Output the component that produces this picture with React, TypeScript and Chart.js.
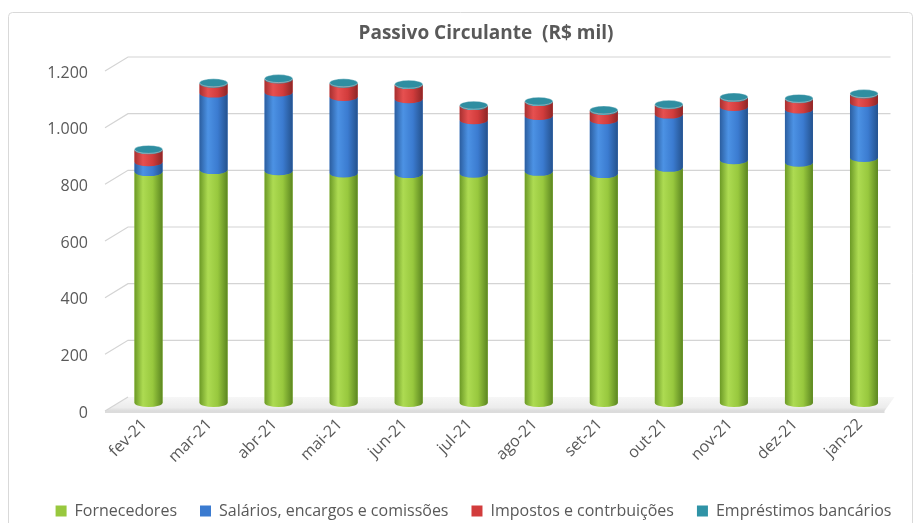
import React, { useEffect, useRef } from 'react';
import { Chart, registerables } from 'chart.js';

Chart.register(...registerables);

const categories = ['fev-21', 'mar-21', 'abr-21', 'mai-21', 'jun-21', 'jul-21', 'ago-21', 'set-21', 'out-21', 'nov-21', 'dez-21', 'jan-22'];
const fornecedores = [815, 822, 818, 810, 808, 809, 816, 808, 830, 857, 848, 865];
const salarios = [35, 270, 278, 270, 264, 189, 197, 190, 188, 188, 188, 194];
const impostos = [42, 35, 46, 47, 50, 50, 49, 33, 33, 32, 36, 30];
const emprestimos = [3, 3, 3, 3, 3, 3, 3, 3, 3, 3, 3, 3];
const seriesNames = ['Fornecedores', 'Salários, encargos e comissões', 'Impostos e contrbuições', 'Empréstimos bancários'];
const yTicks = [0, 200, 400, 600, 800, 1000, 1200];
const titleText = 'Passivo Circulante  (R$ mil)';

const FONT = "'Open Sans', 'DejaVu Sans', sans-serif";
const TEXT = '#595959';

const palettes = [
  { base: '#98c83e', stops: ['#6c9a26', '#addb52', '#98c83e', '#5b8620'], cap: '#a8d356' },
  { base: '#3b7bd0', stops: ['#2b5ea0', '#4c92e4', '#3b7bd0', '#24528e'], cap: '#5b9be6' },
  { base: '#d23c3c', stops: ['#a83030', '#e65050', '#d23c3c', '#8e2626'], cap: '#e05a5a' },
  { base: '#2f93a6', stops: ['#237f8f', '#3eaabf', '#2f93a6', '#1d6e7c'], cap: '#2f8ea1' },
];

const fmt = (v: number) =>
  v >= 1000 ? `${Math.floor(v / 1000)}.${String(v % 1000).padStart(3, '0')}` : String(v);

const decorPlugin = {
  id: 'decor3d',
  beforeDraw(chart: any) {
    const ctx = chart.ctx;
    ctx.save();
    // outer border
    ctx.strokeStyle = '#d9d9d9';
    ctx.lineWidth = 1;
    ctx.beginPath();
    const bx = 8.5, by = 12.5, bw = 904, bh = 540;
    const r = 4;
    ctx.moveTo(bx + r, by);
    ctx.lineTo(bx + bw - r, by);
    ctx.arcTo(bx + bw, by, bx + bw, by + r, r);
    ctx.lineTo(bx + bw, by + bh);
    ctx.moveTo(bx, by + bh);
    ctx.lineTo(bx, by + r);
    ctx.arcTo(bx, by, bx + r, by, r);
    ctx.stroke();
    // title
    ctx.fillStyle = TEXT;
    ctx.font = `bold 19px ${FONT}`;
    ctx.textAlign = 'center';
    ctx.textBaseline = 'middle';
    ctx.fillText(titleText, 486, 34);
    ctx.restore();
  },
  beforeDatasetsDraw(chart: any) {
    const ctx = chart.ctx;
    const { left, right } = chart.chartArea;
    const ys = chart.scales.y;
    ctx.save();
    const y0 = ys.getPixelForValue(0);
    // floor
    const fg = ctx.createLinearGradient(0, y0 - 6, 0, y0 + 9);
    fg.addColorStop(0, '#f7f7f7');
    fg.addColorStop(0.7, '#ececec');
    fg.addColorStop(1, '#d6d6d6');
    ctx.fillStyle = fg;
    ctx.beginPath();
    ctx.moveTo(left - 11, y0 + 8);
    ctx.lineTo(left + 12, y0 - 6);
    ctx.lineTo(right - 2, y0 - 6);
    ctx.lineTo(right - 12, y0 + 8);
    ctx.closePath();
    ctx.fill();
    ctx.strokeStyle = '#dcdcdc';
    ctx.lineWidth = 2;
    ctx.beginPath();
    ctx.moveTo(left - 11, y0 + 9);
    ctx.lineTo(right - 12, y0 + 9);
    ctx.stroke();
    // back wall grid lines + diagonal ticks
    ctx.strokeStyle = '#d4d4d4';
    ctx.lineWidth = 1.2;
    yTicks.forEach((v) => {
      const py = ys.getPixelForValue(v);
      ctx.beginPath();
      ctx.moveTo(left - 11, py + 8);
      ctx.lineTo(left + 12, py - 6);
      if (v > 0) ctx.lineTo(right - 6, py - 6);
      ctx.stroke();
    });
    ctx.restore();
  },
  afterDatasetsDraw(chart: any) {
    const ctx = chart.ctx;
    const ry = 4;
    const n = chart.data.labels.length;
    ctx.save();
    for (let i = 0; i < n; i++) {
      let topInfo: any = null;
      chart.data.datasets.forEach((_ds: any, d: number) => {
        const el = chart.getDatasetMeta(d).data[i];
        const { x, y, base, width } = el.getProps(['x', 'y', 'base', 'width'], true);
        const rx = width / 2;
        const left = x - rx, right = x + rx;
        const top = Math.min(y, base), bot = Math.max(y, base);
        const p = palettes[d];
        const g = ctx.createLinearGradient(left, 0, right, 0);
        g.addColorStop(0, p.stops[0]);
        g.addColorStop(0.3, p.stops[1]);
        g.addColorStop(0.65, p.stops[2]);
        g.addColorStop(1, p.stops[3]);
        ctx.beginPath();
        ctx.moveTo(left, top);
        ctx.ellipse(x, top, rx, ry, 0, Math.PI, 0, true);
        ctx.lineTo(right, bot);
        ctx.ellipse(x, bot, rx, ry, 0, 0, Math.PI, false);
        ctx.closePath();
        ctx.fillStyle = g;
        ctx.fill();
        topInfo = { x, top, rx, d };
      });
      if (topInfo) {
        const p = palettes[topInfo.d];
        ctx.beginPath();
        ctx.ellipse(topInfo.x, topInfo.top, topInfo.rx, ry, 0, 0, Math.PI * 2);
        ctx.fillStyle = p.cap;
        ctx.fill();
        ctx.strokeStyle = 'rgba(255,255,255,0.35)';
        ctx.lineWidth = 1;
        ctx.stroke();
      }
    }
    ctx.restore();
  },
};

export default function App() {
  const ref = useRef<HTMLCanvasElement | null>(null);
  useEffect(() => {
    document.body.style.overflow = 'hidden';
    if (!ref.current) return;
    const allSeries = [fornecedores, salarios, impostos, emprestimos];
    const chart = new Chart(ref.current, {
      type: 'bar',
      data: {
        labels: categories,
        datasets: allSeries.map((s, i) => ({
          label: seriesNames[i],
          data: s,
          backgroundColor: palettes[i].base,
          borderWidth: 0,
          barPercentage: 0.43,
          categoryPercentage: 1,
        })),
      },
      options: {
        responsive: false,
        animation: false,
        devicePixelRatio: 1,
        layout: { padding: { left: 30, right: 0, top: 63, bottom: 0 } },
        plugins: {
          title: { display: false },
          tooltip: { enabled: false },
          legend: {
            position: 'bottom',
            labels: {
              boxWidth: 11,
              boxHeight: 11,
              padding: 23,
              color: TEXT,
              font: { family: FONT, size: 16 },
            },
          },
        },
        scales: {
          x: {
            stacked: true,
            grid: { display: false, drawTicks: false },
            border: { display: false },
            ticks: {
              color: TEXT,
              font: { family: FONT, size: 16 },
              minRotation: 45,
              maxRotation: 45,
              padding: 12,
              labelOffset: -4,
            },
            afterFit: (s: any) => {
              s.height = 77;
            },
          },
          y: {
            stacked: true,
            min: 0,
            max: 1200,
            grid: { display: false, drawTicks: false },
            border: { display: false },
            afterBuildTicks: (s: any) => {
              s.ticks = yTicks.map((v) => ({ value: v }));
            },
            afterFit: (s: any) => {
              s.width = 86;
            },
            ticks: {
              color: TEXT,
              font: { family: FONT, size: 16 },
              padding: 28,
              labelOffset: 10,
              callback: (v: any) => fmt(Number(v)),
            },
          },
          yRight: {
            position: 'right',
            display: true,
            grid: { display: false, drawTicks: false },
            border: { display: false },
            ticks: { display: false },
            afterFit: (s: any) => {
              s.width = 20.5;
            },
          },
        },
      },
      plugins: [decorPlugin],
    });
    return () => chart.destroy();
  }, []);
  return (
    <div style={{ position: 'absolute', left: 0, top: 0, width: 917, height: 529, background: '#fff' }}>
      <canvas ref={ref} width={917} height={529} style={{ display: 'block' }} />
    </div>
  );
}
